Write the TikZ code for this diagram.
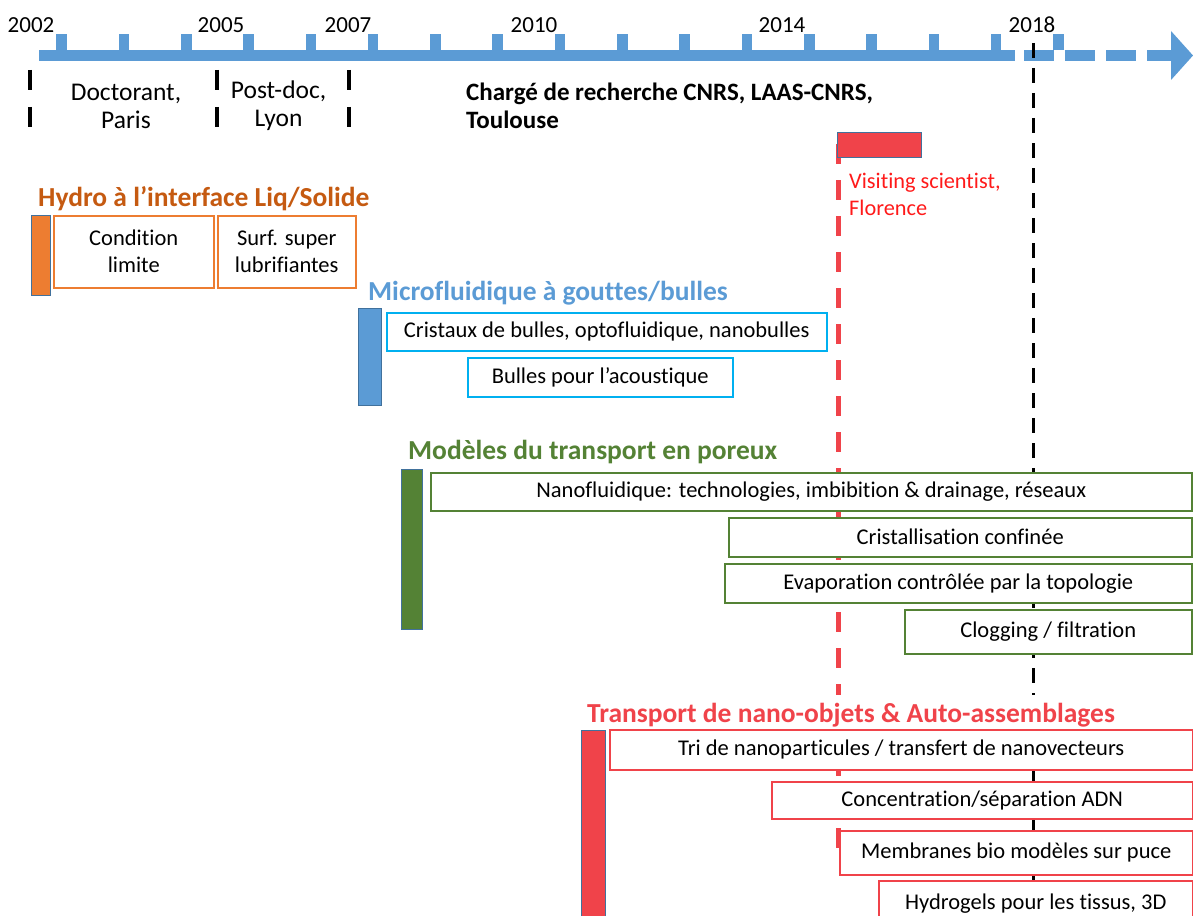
\documentclass[tikz,border=0pt]{standalone}
\usepackage{fontspec}
\setmainfont{Carlito}[Ligatures=NoCommon]
\usetikzlibrary{positioning}

\definecolor{tlblue}{HTML}{5B9BD5}
\definecolor{barline}{HTML}{41719C}
\definecolor{orangefill}{HTML}{ED7D31}
\definecolor{orangetxt}{HTML}{C55A11}
\definecolor{cyanline}{HTML}{00B0F0}
\definecolor{greenfill}{HTML}{548235}
\definecolor{redfill}{HTML}{F0434A}
\definecolor{visitred}{HTML}{FF1A1A}

\newcommand{\tlboxfont}{\fontsize{22.5}{27}\selectfont}
\newcommand{\tltopicfont}{\bfseries\fontsize{27.5}{32}\selectfont}

\begin{document}
\begin{tikzpicture}[
        x=1pt, y=-1pt,
        yearlabel/.style={
          font=\fontsize{23}{27}\selectfont,
          inner sep=0pt
        },
        period/.style={
          font=\fontsize{25.5}{28}\selectfont,
          align=center,
          inner sep=0pt
        },
        perioddash/.style={
          line width=4pt,
          dash pattern=on 20pt off 17pt
        },
        tlmark/.style={
          fill=tlblue
        },
        topic/.style={
          font=\tltopicfont,
          anchor=west,
          inner sep=0pt
        },
        topicbar/.style={
          draw=barline,
          fill=#1,
          line width=1pt,
          anchor=north west,
          inner sep=0pt
        },
        itembox/.style={
          draw=#1,
          fill=white,
          line width=1.5pt,
          anchor=north west,
          inner sep=0pt,
          align=center,
          font=\tlboxfont
        }
      ]
        \useasboundingbox (0,0) rectangle (1193,915);

        % time axis
        \fill[tlblue] (39,50) rectangle (1015,61);
        \foreach \k in {0,...,16}
          \fill[tlmark] (56.3+62.3*\k,34) rectangle (66.9+62.3*\k,50);
        \foreach \a/\b in {1024/1054,1065/1095,1106/1136,1147/1172}
          \fill[tlblue] (\a,50) rectangle (\b,61);
        \fill[tlblue] (1171,31) -- (1193,55.5) -- (1171,80) -- cycle;

        \foreach \x/\l in {31/2002,221/2005,348/2007,534/2010,782/2014,1032/2018}
          \node[yearlabel] (y\l) at (\x,25) {\l};

        % periods
        \foreach \x in {29.5,216.6,349.4}
          \draw[perioddash] (\x,70) -- (\x,127);
        \node[period] (phd) at (126,106) {Doctorant,\\Paris};
        \node[period] (postdoc) at (278.6,106) {Post-doc,\\Lyon};
        \node[period,font=\bfseries\fontsize{25}{28}\selectfont,align=left,anchor=west]
          (cnrs) at (466,106) {Chargé de recherche CNRS, LAAS-CNRS,\\Toulouse};

        % 2018 and visiting marks
        \coordinate (nowtop) at (1033,43);
        \coordinate (nowbot) at (1033,880);
        \draw[line width=3pt,dash pattern=on 15pt off 10pt] (nowtop) -- (nowbot);
        \coordinate (visittop) at (838,144);
        \coordinate (visitbot) at (838,848);
        \draw[redfill,line width=5pt,dash pattern=on 20pt off 16pt] (visittop) -- (visitbot);
        \node[topicbar=redfill,minimum width=84pt,minimum height=25pt] (visit) at (837,132) {};
        \node[font=\fontsize{22.3}{27}\selectfont,text=visitred,align=left,anchor=west,inner sep=0pt]
          (florence) at (849,194.5) {Visiting scientist,\\Florence};

        % Hydro a l'interface
        \node[topic,text=orangetxt] (hydro) at (38,199) {Hydro à l’interface Liq/Solide};
        \node[topicbar=orangefill,minimum width=19pt,minimum height=80pt] (hydrobar) at (31,215) {};
        \node[itembox=orangefill,minimum width=160pt,minimum height=72pt] (cond) at (53,215) {Condition\\limite};
        \node[itembox=orangefill,minimum width=138pt,minimum height=72pt] (surf) at (217,215) {Surf. super\\lubrifiantes};

        % Microfluidique
        \node[topic,text=tlblue] (micro) at (368,293) {Microfluidique à gouttes/bulles};
        \node[topicbar=tlblue,minimum width=23pt,minimum height=97pt] (microbar) at (358,308) {};
        \node[itembox=cyanline,minimum width=440pt,minimum height=38pt] (crist) at (386,312) {Cristaux de bulles, optofluidique, nanobulles};
        \node[itembox=cyanline,minimum width=265pt,minimum height=39pt] (acou) at (467,357) {Bulles pour l’acoustique};

        % Modeles du transport
        \node[topic,text=greenfill] (poreux) at (408,452) {Modèles du transport en poreux};
        \node[topicbar=greenfill,minimum width=21pt,minimum height=160pt] (poreuxbar) at (401,469) {};
        \node[itembox=greenfill,minimum width=761pt,minimum height=38pt] (nanof) at (430,472) {Nanofluidique: technologies, imbibition \& drainage, réseaux};
        \node[itembox=greenfill,minimum width=463pt,minimum height=39pt] (cristal) at (728,517) {Cristallisation confinée};
        \node[itembox=greenfill,minimum width=467pt,minimum height=39pt] (evap) at (724,563) {Evaporation contrôlée par la topologie};
        \node[itembox=greenfill,minimum width=287pt,minimum height=44pt] (clog) at (904,609) {Clogging / filtration};

        % Transport de nano-objets
        \node[topic,text=redfill,fill=white,inner ysep=8pt] (transport) at (587,715) {Transport de nano-objets \& Auto-assemblages};
        \node[topicbar=redfill,minimum width=24pt,minimum height=200pt] (transportbar) at (581,730) {};
        \node[itembox=redfill,minimum width=583pt,minimum height=40pt] (tri) at (609,729) {Tri de nanoparticules / transfert de nanovecteurs};
        \node[itembox=redfill,minimum width=421pt,minimum height=37pt] (adn) at (771,781) {Concentration/séparation ADN};
        \node[itembox=redfill,minimum width=353pt,minimum height=44pt] (memb) at (839,830) {Membranes bio modèles sur puce};
        \node[itembox=redfill,minimum width=314pt,minimum height=46pt] (gel) at (878,880) {Hydrogels pour les tissus, 3D};
      \end{tikzpicture}
\end{document}
